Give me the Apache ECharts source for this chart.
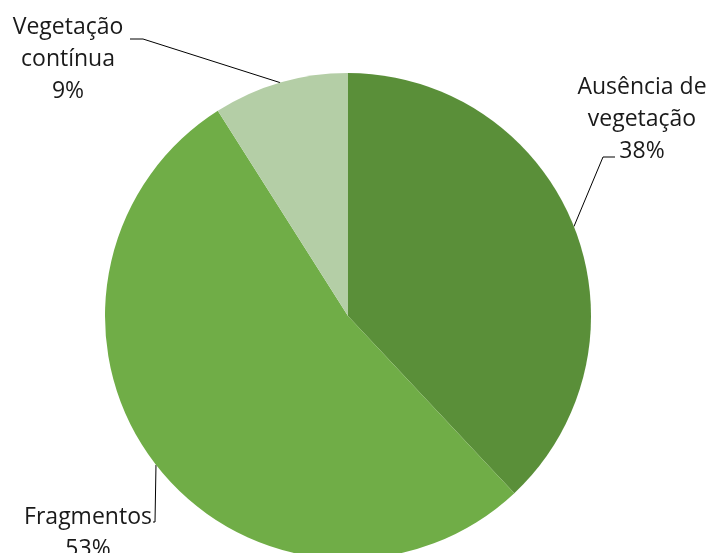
<!DOCTYPE html>
<html>
<head>
<meta charset="utf-8">
<style>
  html, body { margin: 0; padding: 0; background: #ffffff; }
  #chart { width: 710px; height: 553px; }
</style>
<script src="https://cdn.jsdelivr.net/npm/echarts@6/dist/echarts.min.js"></script>
</head>
<body>
<div id="chart"></div>
<script>
// Land cover classes and their shares (%)
const categories = ['Ausência de\nvegetação', 'Fragmentos', 'Vegetação\ncontínua'];
const shares = [38, 53, 9];
const colors = ['#5A8F39', '#70AD47', '#B4CEA6'];

// Label anchor for each slice: text block centre and leader-line elbow/end
const labelSpots = [
  { x: 642, y: 119, elbow: [603, 157], end: [615, 157] },
  { x: 88,  y: 533, elbow: [155, 522], end: [153, 522] },
  { x: 68,  y: 59,  elbow: [143, 39],  end: [130, 39] }
];

const chart = echarts.init(document.getElementById('chart'), null, { renderer: 'canvas' });

chart.setOption({
  animation: false,
  backgroundColor: '#ffffff',
  series: [{
    type: 'pie',
    center: [348, 316],
    radius: 243,
    startAngle: 90,
    clockwise: true,
    avoidLabelOverlap: false,
    itemStyle: { borderWidth: 0 },
    label: {
      show: true,
      formatter: p => p.name + '\n' + p.value + '%',
      fontFamily: 'Open Sans, Noto Sans, sans-serif',
      fontSize: 23,
      lineHeight: 32,
      color: '#1a1a1a',
      align: 'center'
    },
    labelLine: {
      show: true,
      length: 20,
      length2: 10,
      lineStyle: { color: '#000000', width: 1 }
    },
    labelLayout: function (params) {
      const s = labelSpots[params.dataIndex];
      const start = params.labelLinePoints ? params.labelLinePoints[0] : s.elbow;
      return {
        x: s.x,
        y: s.y,
        align: 'center',
        verticalAlign: 'middle',
        fontSize: 23,
        labelLinePoints: [start, s.elbow, s.end]
      };
    },
    data: categories.map((c, i) => ({
      name: c,
      value: shares[i],
      itemStyle: { color: colors[i] }
    }))
  }]
});
</script>
</body>
</html>
